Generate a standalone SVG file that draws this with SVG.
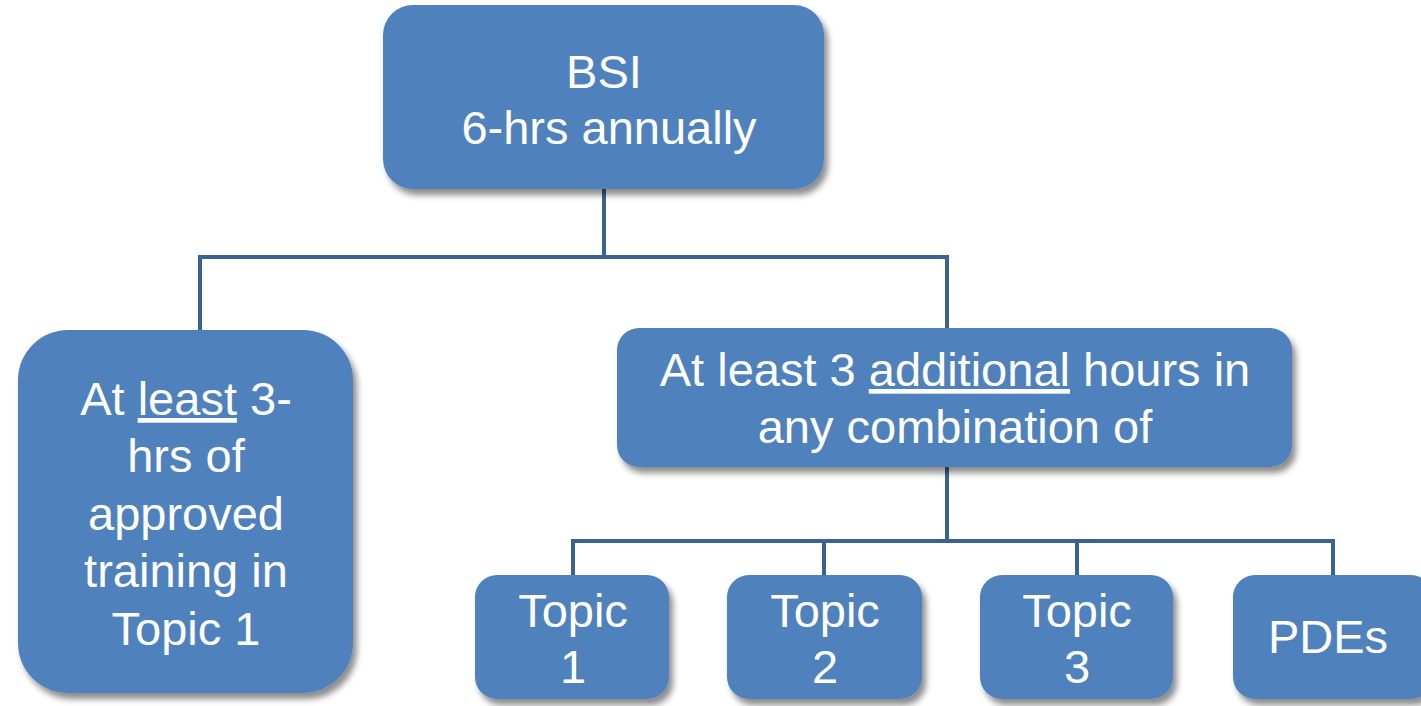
<svg xmlns="http://www.w3.org/2000/svg" width="1421" height="706" viewBox="0 0 1421 706">
<defs>
<filter id="sh" x="-10%" y="-10%" width="125%" height="130%">
<feDropShadow dx="4" dy="6" stdDeviation="3" flood-color="#000" flood-opacity="0.45"/>
</filter>
<style>
.box{fill:#4F81BD;filter:url(#sh)}
.t{fill:#fff;font-family:"Liberation Sans",Arial,sans-serif;font-size:47px;text-anchor:middle}
.c{fill:none;stroke:#3B6392;stroke-width:4}
.u{text-decoration:underline}
</style>
</defs>
<rect width="1421" height="706" fill="#fff"/>
<g id="connectors">
<path class="c" d="M604,188 V257 M200,257 H947 M200,255 V332 M947,255 V330"/>
<path class="c" d="M947,465 V541 M573,541 H1335 M573,539 V577 M824,539 V577 M1077,539 V577 M1333,539 V577"/>
</g>
<g id="bsi">
<rect class="box" x="383" y="5" width="441" height="184" rx="30"/>
<text class="t" x="604" y="88">BSI</text>
<text class="t" x="609" y="144">6-hrs annually</text>
</g>
<g id="least3">
<rect class="box" x="18" y="330" width="335" height="363" rx="50"/>
<text class="t" x="186" y="415">At <tspan class="u">least</tspan> 3-</text>
<text class="t" x="186" y="472">hrs of</text>
<text class="t" x="186" y="530">approved</text>
<text class="t" x="186" y="587">training in</text>
<text class="t" x="186" y="645">Topic 1</text>
</g>
<g id="additional">
<rect class="box" x="617" y="328" width="675" height="139" rx="22"/>
<text class="t" x="955" y="386">At least 3 <tspan class="u">additional</tspan> hours in</text>
<text class="t" x="955" y="443">any combination of</text>
</g>
<g id="topic1">
<rect class="box" x="475" y="575" width="194" height="124" rx="22"/>
<text class="t" x="573" y="627">Topic</text>
<text class="t" x="573" y="683">1</text>
</g>
<g id="topic2">
<rect class="box" x="727" y="575" width="195" height="124" rx="22"/>
<text class="t" x="825" y="627">Topic</text>
<text class="t" x="825" y="683">2</text>
</g>
<g id="topic3">
<rect class="box" x="980" y="575" width="193" height="124" rx="22"/>
<text class="t" x="1077" y="627">Topic</text>
<text class="t" x="1077" y="683">3</text>
</g>
<g id="pdes">
<rect class="box" x="1233" y="575" width="200" height="124" rx="22"/>
<text class="t" x="1328" y="653">PDEs</text>
</g>
</svg>
